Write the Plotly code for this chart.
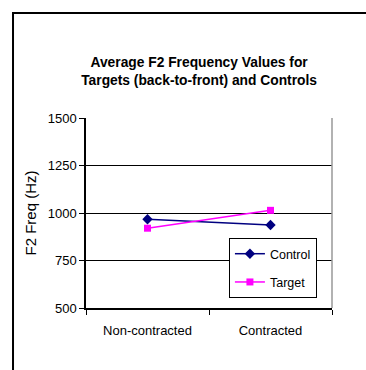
import plotly.graph_objects as go

categories = ["Non-contracted", "Contracted"]
control = [967, 937]
target = [920, 1014]
y_ticks = [500, 750, 1000, 1250, 1500]

FONT = "Liberation Sans Narrow, Arial Narrow, Liberation Sans, Arial, sans-serif"

fig = go.Figure()
fig.add_trace(go.Scatter(x=categories, y=control, name="Control", mode="lines+markers",
                         line=dict(color="#000080", width=1.5),
                         marker=dict(symbol="diamond", size=8, color="#000080"),
                         legendgroup="a"))
fig.add_trace(go.Scatter(x=categories, y=target, name="Target", mode="lines+markers",
                         line=dict(color="#FF00FF", width=1.5),
                         marker=dict(symbol="square", size=7, color="#FF00FF"),
                         legendgroup="b"))

fig.update_layout(
    width=366, height=370,
    margin=dict(l=86, r=34, t=118, b=62),
    paper_bgcolor="white", plot_bgcolor="white",
    font=dict(family=FONT, size=13, color="black"),
    title=dict(text="<b>Average F2 Frequency Values for<br>Targets (back-to-front) and Controls</b>",
               x=0.544, xanchor="center", y=0.820, yanchor="middle",
               font=dict(family=FONT, size=13.8, color="black")),
    showlegend=True,
    legend=dict(x=0.581, y=0.368, xanchor="left", yanchor="top",
                bgcolor="white", bordercolor="black", borderwidth=1,
                font=dict(family=FONT, size=12.5), tracegroupgap=9),
    xaxis=dict(type="category", range=[-0.5, 1.5], tickson="boundaries",
               ticks="outside", ticklen=5, tickcolor="black",
               showline=True, linecolor="black", linewidth=1.5,
               showgrid=False, mirror=False, tickfont=dict(size=13),
               ticklabelstandoff=10),
    yaxis=dict(range=[500, 1500], tickvals=y_ticks, ticks="outside", ticklen=5,
               tickcolor="black", showline=True, linecolor="black", linewidth=1.5,
               showgrid=True, gridcolor="black", gridwidth=1.2, zeroline=False,
               title=dict(text="F2 Freq (Hz)", font=dict(size=15), standoff=7),
               tickfont=dict(size=13)),
    shapes=[
        dict(type="line", xref="paper", yref="paper", x0=1, x1=1, y0=0, y1=1,
             line=dict(color="#999999", width=1.5)),
        dict(type="rect", xref="paper", yref="paper", x0=-0.2967, x1=2, y0=-1, y1=1.5526,
             line=dict(color="black", width=2), fillcolor="rgba(0,0,0,0)", layer="below"),
    ],
)

fig.write_html("out.html", config={"displayModeBar": False},
               post_script="document.body.style.margin='0';document.body.style.overflow='hidden';")
